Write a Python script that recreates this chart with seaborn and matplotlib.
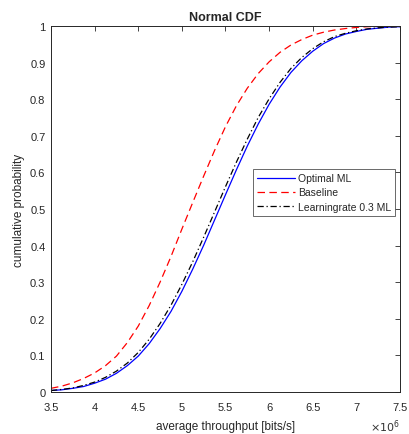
import numpy as np
import pandas as pd
import matplotlib
matplotlib.use("Agg")
import matplotlib.pyplot as plt
from matplotlib.ticker import FuncFormatter, MultipleLocator
import seaborn as sns

# Data (throughput in bits/s)
throughput = [3.5e6, 3.625e6, 3.75e6, 3.875e6, 4.0e6, 4.125e6, 4.25e6, 4.375e6,
              4.5e6, 4.625e6, 4.75e6, 4.875e6, 5.0e6, 5.125e6, 5.25e6, 5.375e6,
              5.5e6, 5.625e6, 5.75e6, 5.875e6, 6.0e6, 6.125e6, 6.25e6, 6.375e6,
              6.5e6, 6.625e6, 6.75e6, 6.875e6, 7.0e6, 7.125e6, 7.25e6, 7.375e6,
              7.5e6]
optimal_ml = [0.004, 0.006, 0.010, 0.015, 0.024, 0.035, 0.051, 0.072,
              0.098, 0.132, 0.173, 0.220, 0.275, 0.336, 0.401, 0.470,
              0.539, 0.607, 0.672, 0.732, 0.786, 0.833, 0.873, 0.905,
              0.931, 0.952, 0.967, 0.978, 0.985, 0.991, 0.994, 0.997,
              0.998]
baseline = [0.010, 0.016, 0.025, 0.037, 0.052, 0.072, 0.098, 0.135,
            0.180, 0.236, 0.300, 0.370, 0.445, 0.518, 0.590, 0.660,
            0.725, 0.782, 0.830, 0.870, 0.902, 0.928, 0.948, 0.963,
            0.975, 0.983, 0.989, 0.993, 0.996, 0.998, 0.999, 0.9995,
            1.000]
learningrate = [0.004, 0.007, 0.011, 0.018, 0.027, 0.040, 0.057, 0.079,
                0.108, 0.144, 0.187, 0.237, 0.294, 0.356, 0.423, 0.492,
                0.561, 0.628, 0.691, 0.750, 0.801, 0.846, 0.884, 0.914,
                0.938, 0.957, 0.971, 0.980, 0.987, 0.992, 0.995, 0.997,
                0.998]
series_names = ["Optimal ML", "Baseline", "Learningrate 0.3 ML"]

df = pd.concat([
    pd.DataFrame({"x": throughput, "y": optimal_ml, "series": series_names[0]}),
    pd.DataFrame({"x": throughput, "y": baseline, "series": series_names[1]}),
    pd.DataFrame({"x": throughput, "y": learningrate, "series": series_names[2]}),
])

sns.set_style("white")
plt.rcParams["font.family"] = ["Liberation Sans", "DejaVu Sans"]

fig = plt.figure(figsize=(4.1, 4.35), dpi=100)
ax = fig.add_axes([0.1244, 0.0966, 0.8512, 0.8414])

styles = {
    "Optimal ML": dict(color=(0, 0, 1), linestyle="-"),
    "Baseline": dict(color=(1, 0, 0), linestyle=(0, (6, 3.5))),
    "Learningrate 0.3 ML": dict(color="black", linestyle=(0, (5, 2.2, 1, 2.2))),
}
for name in series_names:
    sub = df[df["series"] == name]
    sns.lineplot(data=sub, x="x", y="y", ax=ax, label=name, linewidth=0.9,
                 **styles[name])

ax.set_xlim(3.5e6, 7.5e6)
ax.set_ylim(0, 1)
ax.xaxis.set_major_locator(MultipleLocator(0.5e6))
ax.yaxis.set_major_locator(MultipleLocator(0.1))
ax.xaxis.set_major_formatter(FuncFormatter(lambda v, p: f"{v/1e6:g}"))
ax.yaxis.set_major_formatter(FuncFormatter(lambda v, p: f"{round(v, 1):g}"))
ax.tick_params(direction="in", length=3.5, width=0.6, labelsize=8,
               top=True, right=True, colors="0.15")
ax.tick_params(axis="x", pad=7)
ax.tick_params(axis="y", pad=4)
for s in ax.spines.values():
    s.set_color("0.15")
    s.set_linewidth(0.7)

ax.set_xlabel("average throughput [bits/s]", fontsize=8.5, labelpad=6)
ax.set_ylabel("cumulative probability", fontsize=8.5, labelpad=4)
ax.set_title("Normal CDF", fontsize=9, fontweight="bold", pad=4)
ax.text(1.0, -0.093, r"$\times 10^{6}$", transform=ax.transAxes,
        ha="right", va="center", fontsize=8, color="0.2")

leg = ax.legend(loc="upper left", bbox_to_anchor=(0.579, 0.609), fontsize=7.5,
                frameon=True, fancybox=False, edgecolor="0.15",
                handlelength=3.6, handletextpad=0.3, borderpad=0.4,
                labelspacing=0.4, borderaxespad=0)
leg.get_frame().set_linewidth(0.6)

fig.savefig("out.png", dpi=100)
